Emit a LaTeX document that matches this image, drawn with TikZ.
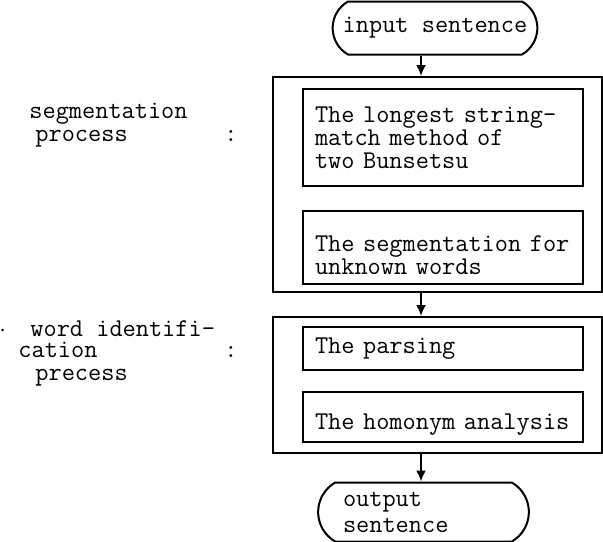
\documentclass[tikz,border=0pt]{standalone}
\usepackage{tikz}
\usetikzlibrary{shapes.misc,positioning,arrows.meta}

% extra room above the first line of a box
\newcommand{\boxgap}{\rule{0pt}{15.5pt}}

\tikzset{
    stepbox/.style={draw, line width=1pt, rectangle, inner xsep=6pt, inner ysep=0pt,
        minimum width=140pt, text width=128pt, align=left},
    outerbox/.style={draw, line width=1pt, rectangle, minimum width=164.5pt},
    terminal/.style={draw, line width=1pt, rounded rectangle, rounded rectangle arc length=120},
    flow/.style={line width=1pt, -{Latex[length=5.5pt,width=5pt]}},
    sidetext/.style={anchor=base west, inner sep=0pt}
}

\begin{document}
\begin{tikzpicture}[x=0.5pt, y=-0.5pt, font=\fontsize{12.8}{11.5}\selectfont\ttfamily]
    \useasboundingbox (0,0) rectangle (603,541);

    % input
    \node[terminal, minimum width=109pt, minimum height=26.5pt] (in) at (435,28) {input sentence};
    \coordinate (spine) at (421,0);

    % segmentation process
    \node[outerbox, minimum height=107.5pt] (seg) at (437.5,184.5) {};
    \node[stepbox, minimum height=48.5pt] (longest) at (443,137.5) {The longest string-\\match method of\\two Bunsetsu};
    \node[stepbox, minimum height=36.5pt] (unknown) at (443,247.5) {\boxgap The segmentation for\\unknown words};

    % word identification process
    \node[outerbox, minimum height=68pt] (wid) at (437.5,385) {};
    \node[stepbox, minimum height=21.5pt] (parsing) at (443,348.5) {The parsing};
    \node[stepbox, minimum height=25pt] (homonym) at (443,417) {\boxgap The homonym analysis};

    % output
    \node[terminal, minimum width=112pt, minimum height=29.5pt, text width=80.5pt, align=left,
        font=\fontsize{12.8}{13}\selectfont\ttfamily] (out) at (423.5,512) {output\\sentence};

    \draw[flow] (in.south -| spine) -- (seg.north -| spine);
    \draw[flow] (seg.south -| spine) -- (wid.north -| spine);
    \draw[flow] (wid.south -| spine) -- (out.north -| spine);

    % labels on the left
    \node[sidetext] (seglab) at (29,118) {segmentation};
    \node[sidetext] (seglabb) at (35,141) {process};
    \node[sidetext] (segcolon) at (224,141) {:};
    \node[sidetext] (widdot) at (-1,336) {$\cdot$};
    \node[sidetext] (widlab) at (30,336) {word identifi-};
    \node[sidetext] (widlabb) at (18,357) {cation};
    \node[sidetext] (widcolon) at (224,357) {:};
    \node[sidetext] (widlabc) at (35,380) {precess};
\end{tikzpicture}
\end{document}
